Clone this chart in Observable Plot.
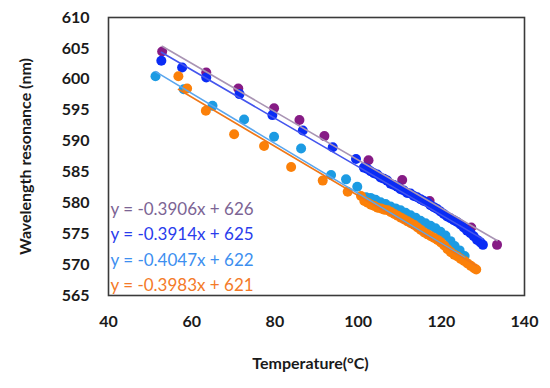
<!DOCTYPE html>
<html>
<head>
<meta charset="utf-8">
<script src="https://cdn.jsdelivr.net/npm/d3@7"></script>
<script src="https://cdn.jsdelivr.net/npm/@observablehq/plot@0.6"></script>
<style>
  body { margin: 0; background: #fff; }
  #chart svg { font-family: Lato, "Open Sans", sans-serif; }
</style>
</head>
<body>
<div id="chart"></div>
<script>
// ---- data ----
const purpleT = [52.9, 63.5, 71.2, 79.8, 85.9, 91.9, 102.5, 110.6, 117.2, 127.2, 133.4];
const purpleW = [604.5, 601.1, 598.5, 595.3, 593.4, 590.8, 586.9, 583.7, 580.3, 576.0, 573.2];

const blueT = [52.7, 57.7, 63.5, 71.5, 79.4, 86.7, 93.9, 99.5,
  101.4, 102.2, 103.0, 103.8, 104.6, 105.4, 106.2, 107.0, 107.8, 108.6, 109.4, 110.2,
  111.0, 111.8, 112.6, 113.4, 114.2, 115.0, 115.8, 116.6, 117.4, 118.2, 119.0, 119.8,
  120.6, 121.4, 122.2, 123.0, 123.8, 124.6, 125.4, 126.2, 127.0, 127.8, 128.6, 129.4, 130.0];
const blueW = [603.0, 601.9, 600.3, 597.6, 594.2, 591.7, 589.0, 587.1,
  585.7, 585.5, 585.1, 584.8, 584.6, 584.1, 583.9, 583.6, 583.1, 582.9, 582.6, 582.2,
  582.0, 581.6, 581.5, 581.1, 580.9, 580.6, 580.3, 580.1, 579.6, 579.3, 579.0, 578.6,
  578.2, 577.8, 577.5, 577.2, 576.9, 576.5, 576.0, 575.5, 575.1, 574.6, 574.0, 573.6, 573.2];

const lightT = [51.3, 58.1, 65.0, 72.6, 79.8, 86.3, 93.5, 97.1, 99.8, 101.9,
  103.0, 104.2, 105.4, 106.6, 107.8, 109.0, 110.2, 111.4, 112.6, 113.8, 115.0,
  116.2, 117.4, 118.6, 119.8, 121.0, 122.2, 123.2, 124.4, 125.6];
const lightW = [600.5, 598.4, 595.7, 593.5, 590.7, 588.8, 584.5, 583.8, 582.6, 580.9,
  580.8, 580.5, 580.1, 579.8, 579.4, 579.1, 578.8, 578.4, 578.0, 577.6, 577.1,
  576.7, 576.3, 575.9, 575.3, 574.7, 573.8, 573.0, 572.3, 571.4];

const orangeT = [56.8, 58.9, 63.4, 70.2, 77.4, 83.9, 91.5, 97.5, 100.7,
  101.5, 102.3, 103.1, 103.9, 104.7, 105.5, 106.3, 107.1, 107.9, 108.7, 109.5, 110.3,
  111.1, 111.9, 112.7, 113.5, 114.3, 115.1, 115.9, 116.7, 117.5, 118.3, 119.1, 119.9,
  120.7, 121.5, 122.3, 123.1, 123.9, 124.7, 125.5, 126.3, 127.1, 127.9, 128.4];
const orangeW = [600.5, 598.5, 594.9, 591.1, 589.2, 585.8, 583.6, 581.8, 581.1,
  580.3, 580.0, 579.7, 579.5, 579.2, 579.1, 578.9, 578.8, 578.5, 578.2, 577.9, 577.6,
  577.3, 577.0, 576.7, 576.4, 576.0, 575.6, 575.2, 574.9, 574.6, 574.3, 574.0, 573.6,
  573.1, 572.5, 572.0, 571.6, 571.3, 570.9, 570.6, 570.2, 569.8, 569.4, 569.2];

const slopes = [-0.3906, -0.3914, -0.4047, -0.3983];
const intercepts = [626, 625, 622, 621];
const eqLabels = ["y = -0.3906x + 626", "y = -0.3914x + 625", "y = -0.4047x + 622", "y = -0.3983x + 621"];
const xTicks = [40, 60, 80, 100, 120, 140];
const yTicks = [565, 570, 575, 580, 585, 590, 595, 600, 605, 610];

// ---- styling ----
const dotColors = ["#861b85", "#0a2cf5", "#1c9be3", "#fb8009"];
const lineColors = ["#a994b4", "#4455ee", "#5aa6ee", "#f07818"];
const textColors = ["#7c6494", "#2a3cec", "#3d8ff0", "#f47a28"];

const seriesT = [purpleT, blueT, lightT, orangeT];
const seriesW = [purpleW, blueW, lightW, orangeW];

const marks = [];
// dots
seriesT.forEach((T, s) => {
  const data = T.map((t, i) => ({t, w: seriesW[s][i]}));
  marks.push(Plot.dot(data, {x: "t", y: "w", r: 5, fill: dotColors[s], stroke: "none"}));
});
// trend lines from the fitted equations over each series' range
seriesT.forEach((T, s) => {
  const ext = d3.extent(T);
  const data = ext.map(t => ({t, w: slopes[s] * t + intercepts[s]}));
  marks.push(Plot.line(data, {x: "t", y: "w", stroke: lineColors[s], strokeWidth: 1.6}));
});
// equation labels
eqLabels.forEach((lab, s) => {
  marks.push(Plot.text([lab], {
    frameAnchor: "top-left", text: d => d, dx: 2, dy: 185 + s * 25.5,
    fill: textColors[s], fontSize: 17, textAnchor: "start"
  }));
});

const chart = Plot.plot({
  width: 550,
  height: 388,
  marginLeft: 108,
  marginRight: 26,
  marginTop: 17,
  marginBottom: 93,
  x: {domain: [40, 140]},
  y: {domain: [565, 610]},
  marks: [
    Plot.axisX({ticks: xTicks, tickSize: 0, tickPadding: 20, fontSize: 16, fontWeight: "bold", fill: "#1a1a1a", label: null}),
    Plot.axisY({ticks: yTicks, tickSize: 0, tickPadding: 19, fontSize: 16, fontWeight: "bold", fill: "#1a1a1a", label: null}),
    ...marks,
    Plot.frame({stroke: "#3a3a3a", strokeWidth: 1.6}),
    Plot.text(["Temperature(°C)"], {frameAnchor: "bottom", text: d => d, dy: 73, dx: -6, fontSize: 16, fontWeight: "bold", fill: "#1a1a1a"}),
    Plot.text(["Wavelength resonance (nm)"], {frameAnchor: "left", text: d => d, rotate: -90, dx: -83, textAnchor: "middle", fontSize: 16, fontWeight: "bold", fill: "#1a1a1a"})
  ]
});
document.getElementById("chart").appendChild(chart);
</script>
</body>
</html>
